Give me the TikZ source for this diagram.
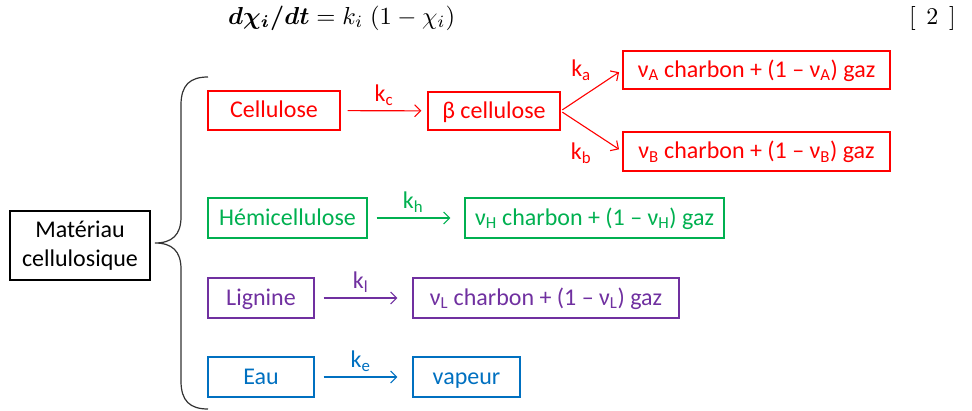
\documentclass[tikz,border=0pt]{standalone}
\usepackage{amsmath,bm}
\usepackage{fontspec}
\setmainfont{Carlito}
\usetikzlibrary{arrows.meta}
\definecolor{cred}{HTML}{FF0000}
\definecolor{cgreen}{HTML}{00B050}
\definecolor{cpurple}{HTML}{7030A0}
\definecolor{cblue}{HTML}{0070C0}
\begin{document}
\begin{tikzpicture}[x=1pt,y=-1pt,
  box/.style={draw, line width=1.2pt, inner sep=0pt, align=center, font=\fontsize{24}{29}\selectfont},
  tb/.style={text height=17pt, text depth=3pt},
  arr/.style={-{Straight Barb[length=6pt,width=12pt]}, line width=1.1pt},
  lab/.style={font=\fontsize{24}{28}\selectfont, inner sep=0pt}]
\useasboundingbox (0,0) rectangle (972,410);

\node[anchor=west, inner sep=0pt] (eq) at (228,18) {\resizebox{227pt}{!}{$\boldsymbol{d\chi_i/dt} = k_i\;(1-\chi_i)$}};
\node[anchor=east, inner sep=0pt] (num) at (956,18) {\scalebox{2.4}{$[\;\,2\;\,]$}};

\node[box, minimum width=140pt, minimum height=69pt] (mat) at (80,245.5) {Matériau\\cellulosique};

\draw[line width=1.2pt, black!80] (208,77) .. controls (190,77) and (181,85) .. (181,105) -- (181,217)
  .. controls (181,235) and (172,243) .. (155,243)
  .. controls (172,243) and (181,251) .. (181,269) -- (181,381)
  .. controls (181,401) and (190,409) .. (208,409);

\begin{scope}[cred]
\node[box, tb, minimum width=132pt, minimum height=39pt] (cell) at (274,110.5) {Cellulose};
\node[box, tb, minimum width=132pt, minimum height=38pt] (beta) at (494,111) {β cellulose};
\node[box, tb, minimum width=267pt, minimum height=38pt] (pa) at (756.5,70) {ν\textsubscript{A} charbon + (1 – ν\textsubscript{A}) gaz};
\node[box, tb, minimum width=267pt, minimum height=39pt] (pb) at (756.5,151.5) {ν\textsubscript{B} charbon + (1 – ν\textsubscript{B}) gaz};
\draw[arr, shorten <=7pt, shorten >=6pt] (cell) -- node[lab, above=5pt] {k\textsubscript{c}} (beta);
\draw[arr, shorten <=2pt, shorten >=4pt] (beta.east) -- (pa.west);
\draw[arr, shorten <=2pt, shorten >=4pt] (beta.east) -- (pb.west);
\node[lab] (ka) at (581,70) {k\textsubscript{a}};
\node[lab] (kb) at (581,153) {k\textsubscript{b}};
\end{scope}

\begin{scope}[cgreen]
\node[box, tb, minimum width=159pt, minimum height=40pt] (hemi) at (287.5,218) {Hémicellulose};
\node[box, tb, minimum width=259pt, minimum height=40pt] (ph) at (594.5,218) {ν\textsubscript{H} charbon + (1 – ν\textsubscript{H}) gaz};
\draw[arr, shorten <=9pt, shorten >=14pt] (hemi) -- node[lab, above=5pt, xshift=-3pt] {k\textsubscript{h}} (ph);
\end{scope}

\begin{scope}[cpurple]
\node[box, tb, minimum width=106pt, minimum height=40pt] (lig) at (261,298) {Lignine};
\node[box, tb, minimum width=266pt, minimum height=40pt] (pl) at (546,298) {ν\textsubscript{L} charbon + (1 – ν\textsubscript{L}) gaz};
\draw[arr, shorten <=9pt, shorten >=15pt] (lig) -- node[lab, above=5pt, xshift=-3pt] {k\textsubscript{l}} (pl);
\end{scope}

\begin{scope}[cblue]
\node[box, tb, minimum width=106pt, minimum height=40pt] (eau) at (261,377) {Eau};
\node[box, tb, minimum width=107pt, minimum height=40pt] (vap) at (466.5,377) {vapeur};
\draw[arr, shorten <=9pt, shorten >=15pt] (eau) -- node[lab, above=5pt, xshift=-3pt] {k\textsubscript{e}} (vap);
\end{scope}
\end{tikzpicture}
\end{document}
